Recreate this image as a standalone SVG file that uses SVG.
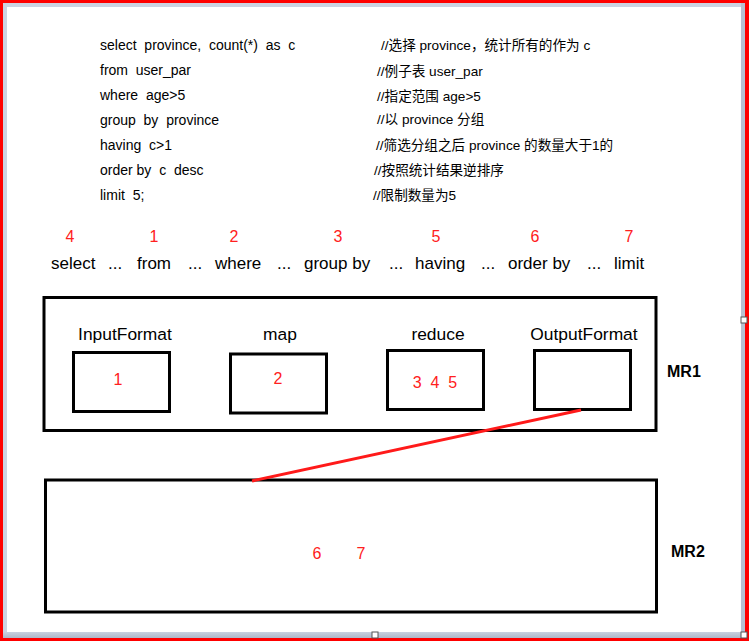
<svg xmlns="http://www.w3.org/2000/svg" width="749" height="641" viewBox="0 0 749 641">
<defs>
<linearGradient id="bandH" x1="0" y1="0" x2="0" y2="1"><stop offset="0" stop-color="#c9d1e0"/><stop offset="1" stop-color="#aeb8c9"/></linearGradient>
</defs>
<style>
.code{font-family:"Liberation Sans","Noto Sans CJK SC",sans-serif;font-size:14px;fill:#000}
.cmt{font-family:"Liberation Sans","Noto Sans CJK SC",sans-serif;font-size:13.6px;fill:#000}
.kw{font-family:"Liberation Sans","Noto Sans CJK SC",sans-serif;font-size:17px;fill:#000}
.num{font-family:"Liberation Sans",sans-serif;font-size:16px;fill:#ff2020}
.lbl{font-family:"Liberation Sans",sans-serif;font-size:17.4px;fill:#000;text-anchor:middle}
.mr{font-family:"Liberation Sans",sans-serif;font-size:16px;font-weight:bold;fill:#000}
.box{fill:none;stroke:#000;stroke-width:3}
.handle{fill:#fff;stroke:#555;stroke-width:1}
</style>
<rect x="0" y="0" width="749" height="641" fill="#ff0000"/>
<rect x="3" y="3" width="742" height="635" fill="#cbd3e2"/>
<rect x="3" y="632" width="742" height="6" fill="url(#bandH)"/>
<rect x="741" y="3" width="4" height="635" fill="#b8c1d2"/>
<rect x="7" y="7" width="734" height="625" fill="#ffffff"/>
<rect x="741" y="317" width="6" height="6" class="handle"/>
<rect x="372" y="632" width="6" height="6" class="handle"/>
<rect x="741" y="632" width="6" height="6" class="handle"/>

<g id="code">
<text class="code" x="100" y="50" xml:space="preserve">select  province,  count(*)  as  c</text>
<text class="code" x="100" y="75" xml:space="preserve">from  user_par</text>
<text class="code" x="100" y="100" xml:space="preserve">where  age&gt;5</text>
<text class="code" x="100" y="125" xml:space="preserve">group  by  province</text>
<text class="code" x="100" y="150" xml:space="preserve">having  c&gt;1</text>
<text class="code" x="100" y="175" xml:space="preserve">order by  c  desc</text>
<text class="code" x="100" y="200" xml:space="preserve">limit  5;</text>
<text class="cmt" x="381" y="50">//选择 province，统计所有的作为 c</text>
<text class="cmt" x="377" y="76">//例子表 user_par</text>
<text class="cmt" x="377" y="101">//指定范围 age&gt;5</text>
<text class="cmt" x="377" y="124">//以 province 分组</text>
<text class="cmt" x="376" y="150">//筛选分组之后 province 的数量大于1的</text>
<text class="cmt" x="374" y="175">//按照统计结果逆排序</text>
<text class="cmt" x="373" y="200">//限制数量为5</text>
</g>

<g id="order">
<text class="num" x="70" y="242" text-anchor="middle">4</text>
<text class="num" x="154" y="242" text-anchor="middle">1</text>
<text class="num" x="234" y="242" text-anchor="middle">2</text>
<text class="num" x="338" y="242" text-anchor="middle">3</text>
<text class="num" x="436" y="242" text-anchor="middle">5</text>
<text class="num" x="535" y="242" text-anchor="middle">6</text>
<text class="num" x="629" y="242" text-anchor="middle">7</text>
<text class="kw" x="51" y="269">select</text>
<text class="kw" x="108" y="269">...</text>
<text class="kw" x="137" y="269">from</text>
<text class="kw" x="188" y="269">...</text>
<text class="kw" x="215" y="269">where</text>
<text class="kw" x="277" y="269">...</text>
<text class="kw" x="304" y="269">group by</text>
<text class="kw" x="389" y="269">...</text>
<text class="kw" x="415" y="269">having</text>
<text class="kw" x="481" y="269">...</text>
<text class="kw" x="508" y="269">order by</text>
<text class="kw" x="587" y="269">...</text>
<text class="kw" x="614" y="269">limit</text>
</g>

<g id="MR1">
<rect class="box" x="44" y="297.5" width="612" height="133"/>
<text class="mr" x="667" y="377">MR1</text>
</g>
<g id="InputFormat">
<text class="lbl" x="125" y="340">InputFormat</text>
<rect class="box" x="73.5" y="352.5" width="96" height="59"/>
<text class="num" x="118" y="385" text-anchor="middle">1</text>
</g>
<g id="map">
<text class="lbl" x="280" y="340">map</text>
<rect class="box" x="230.5" y="354" width="96" height="59"/>
<text class="num" x="278" y="384" text-anchor="middle">2</text>
</g>
<g id="reduce">
<text class="lbl" x="438" y="340">reduce</text>
<rect class="box" x="387.5" y="350.5" width="96" height="59"/>
<text class="num" x="435" y="388" text-anchor="middle" xml:space="preserve">3  4  5</text>
</g>
<g id="OutputFormat">
<text class="lbl" x="584" y="340">OutputFormat</text>
<rect class="box" x="534.5" y="350.5" width="96" height="59"/>
</g>
<g id="MR2">
<rect class="box" x="45.5" y="480" width="611" height="132"/>
<text class="num" x="317" y="559" text-anchor="middle">6</text>
<text class="num" x="361" y="559" text-anchor="middle">7</text>
<text class="mr" x="671" y="557">MR2</text>
</g>
<g id="connectors">
<line x1="581" y1="410" x2="252" y2="481" stroke="#ff1a1a" stroke-width="3"/>
</g>
</svg>
